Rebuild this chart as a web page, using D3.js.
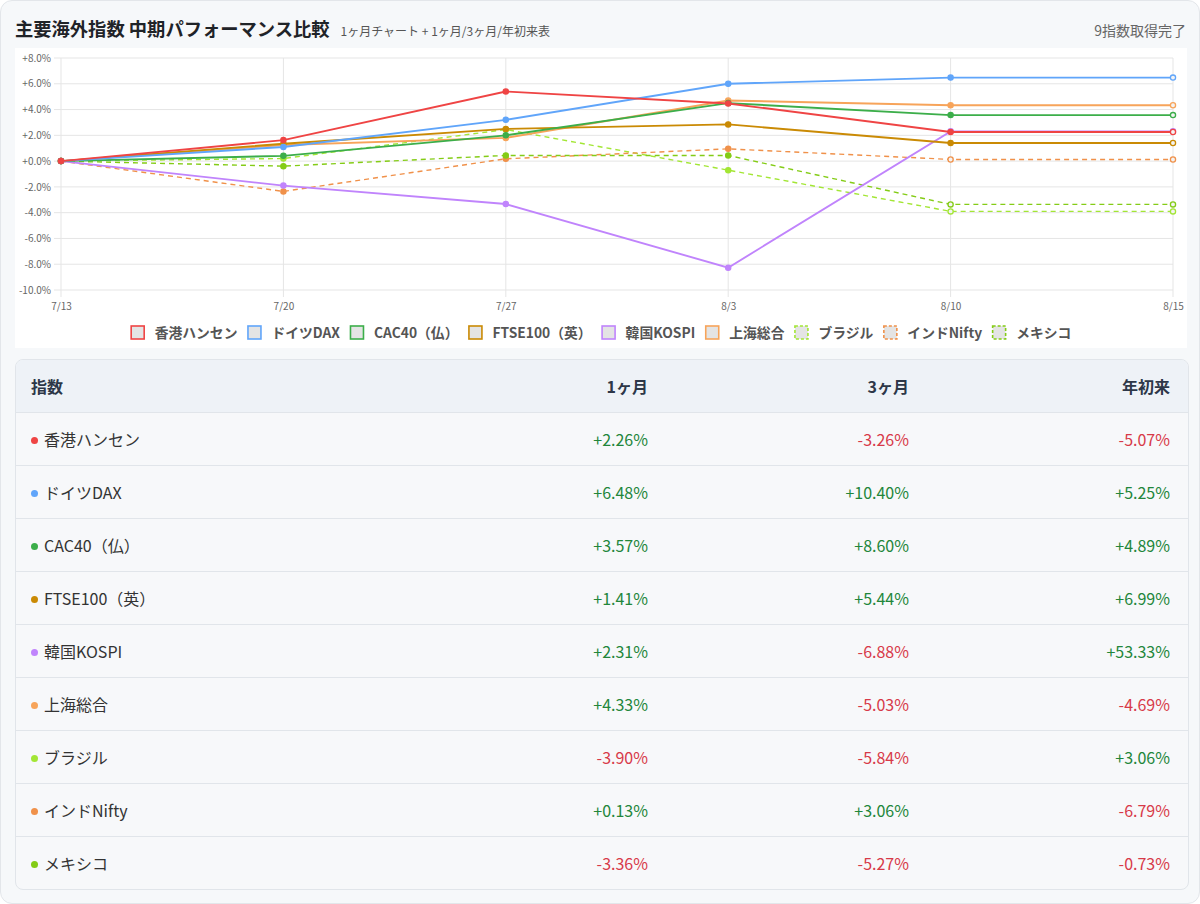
<!DOCTYPE html>
<html lang="ja">
<head>
<meta charset="utf-8">
<script src="https://cdn.jsdelivr.net/npm/d3@7"></script>
<style>
  html, body { margin: 0; padding: 0; background: #ffffff; }
  body { font-family: "Noto Sans CJK JP", "Noto Sans", sans-serif; }
  #card {
    position: absolute; left: 0; top: 0; width: 1198px; height: 902px;
    background: #f6f8fa; border: 1px solid #e3e6ea; border-radius: 12px;
  }
  #title { position: absolute; left: 14px; top: 14px; font-size: 18.3px; font-weight: 700; color: #1f2328; white-space: nowrap; }
  #title span { font-size: 12px; font-weight: 400; color: #555; margin-left: 11px; }
  #status { position: absolute; right: 13px; top: 19px; font-size: 14px; color: #666; }
  #chart { position: absolute; left: 14px; top: 47px; }
  #tbl {
    position: absolute; left: 14px; top: 358px; width: 1172px;
    border: 1px solid #e1e5ea; border-radius: 8px; overflow: hidden; background: #f7f8fa;
  }
  table { border-collapse: collapse; width: 100%; }
  th { background: #eef2f7; height: 52px; font-size: 16px; font-weight: 700; color: #2d3748; padding: 0 18px; }
  td { height: 52px; font-size: 16px; color: #333; padding: 0 18px; border-top: 1px solid #e1e5ea; }
  th, td { text-align: right; }
  th:first-child, td:first-child { text-align: left; padding-left: 15px; }
  .dot { display: inline-block; width: 7px; height: 7px; border-radius: 50%; margin-right: 6px; vertical-align: 2px; }
  .pos { color: #22863a; }
  .neg { color: #d73a49; }
</style>
</head>
<body>
<div id="card">
  <div id="title">主要海外指数 中期パフォーマンス比較<span>1ヶ月チャート + 1ヶ月/3ヶ月/年初来表</span></div>
  <div id="status">9指数取得完了</div>
  <svg id="chart"></svg>
  <div id="tbl"></div>
</div>
<script>
// data
const dates = ["7/13", "7/20", "7/27", "8/3", "8/10", "8/15"];
const names = ["香港ハンセン", "ドイツDAX", "CAC40（仏）", "FTSE100（英）", "韓国KOSPI", "上海総合", "ブラジル", "インドNifty", "メキシコ"];
const colors = ["#ef4444", "#60a5fa", "#3cae4a", "#ca8a04", "#c084fc", "#f7a45a", "#a3e635", "#f0914a", "#84cc16"];
const dashed = [false, false, false, false, false, false, true, true, true];

const hsi    = [0, 1.63, 5.40, 4.47, 2.26, 2.26];
const dax    = [0, 1.10, 3.20, 6.00, 6.48, 6.48];
const cac    = [0, 0.41, 2.00, 4.50, 3.57, 3.57];
const ftse   = [0, 1.35, 2.50, 2.85, 1.41, 1.41];
const kospi  = [0, -1.90, -3.33, -8.27, 2.31, 2.31];
const sse    = [0, 1.25, 1.80, 4.70, 4.33, 4.33];
const brazil = [0, 0.20, 2.45, -0.70, -3.90, -3.90];
const nifty  = [0, -2.35, 0.18, 0.95, 0.13, 0.13];
const mexico = [0, -0.39, 0.44, 0.44, -3.36, -3.36];
const series = [hsi, dax, cac, ftse, kospi, sse, brazil, nifty, mexico];

const yTicks = [-10, -8, -6, -4, -2, 0, 2, 4, 6, 8];

// table values
const oneMonth   = [2.26, 6.48, 3.57, 1.41, 2.31, 4.33, -3.90, 0.13, -3.36];
const threeMonth = [-3.26, 10.40, 8.60, 5.44, -6.88, -5.03, -5.84, 3.06, -5.27];
const ytd        = [-5.07, 5.25, 4.89, 6.99, 53.33, -4.69, 3.06, -6.79, -0.73];
const headers = ["指数", "1ヶ月", "3ヶ月", "年初来"];

// chart
const W = 1172, H = 300;
const margin = { top: 10, right: 14, bottom: 58, left: 46 };
const svg = d3.select("#chart").attr("width", W).attr("height", H);
svg.append("rect").attr("width", W).attr("height", H).attr("fill", "#fff");

const x = d3.scalePoint().domain(dates).range([margin.left, W - margin.right]);
const y = d3.scaleLinear().domain([-10, 8]).range([H - margin.bottom, margin.top]);

const fmt = v => (v >= 0 ? "+" : "") + v.toFixed(1) + "%";

// grid
svg.append("g")
  .selectAll("line.h").data(yTicks).enter().append("line")
  .attr("x1", margin.left - 7).attr("x2", W - margin.right)
  .attr("y1", d => y(d)).attr("y2", d => y(d))
  .attr("stroke", "#e5e5e5").attr("stroke-width", 1);
svg.append("g")
  .selectAll("line.v").data(dates).enter().append("line")
  .attr("x1", d => x(d)).attr("x2", d => x(d))
  .attr("y1", margin.top).attr("y2", H - margin.bottom + 7)
  .attr("stroke", "#e5e5e5").attr("stroke-width", 1);

// y axis labels
const yAxis = svg.append("g")
  .attr("transform", `translate(${margin.left - 7},0)`)
  .call(d3.axisLeft(y).tickValues(yTicks).tickFormat(fmt).tickSize(0).tickPadding(3));
yAxis.select(".domain").remove();
yAxis.selectAll("text").attr("fill", "#666").style("font-size", "10px")
  .style("font-family", "'Noto Sans CJK JP', sans-serif");

// x axis labels
const xAxis = svg.append("g")
  .attr("transform", `translate(0,${H - margin.bottom + 9})`)
  .call(d3.axisBottom(x).tickSize(0).tickPadding(4));
xAxis.select(".domain").remove();
xAxis.selectAll("text").attr("fill", "#666").style("font-size", "10px")
  .style("font-family", "'Noto Sans CJK JP', sans-serif");

// lines
const line = d3.line().x((d, i) => x(dates[i])).y(d => y(d));
const order = [6, 7, 8, 5, 4, 3, 2, 1, 0];
order.forEach(k => {
  const g = svg.append("g");
  g.append("path")
    .datum(series[k])
    .attr("d", line)
    .attr("fill", "none")
    .attr("stroke", colors[k])
    .attr("stroke-width", dashed[k] ? 1.4 : 1.9)
    .attr("stroke-dasharray", dashed[k] ? "5,4" : null);
  g.selectAll("circle").data(series[k]).enter().append("circle")
    .attr("cx", (d, i) => x(dates[i]))
    .attr("cy", d => y(d))
    .attr("r", 2.6)
    .attr("fill", (d, i) => (i === dates.length - 1 || (dashed[k] && i === 4)) ? "#f3f3f3" : colors[k])
    .attr("stroke", colors[k])
    .attr("stroke-width", 1.3);
});

// legend
const legend = svg.append("g").attr("transform", `translate(0,${H - 15})`);
const items = legend.selectAll("g").data(names).enter().append("g");
items.append("rect")
  .attr("x", 0.5).attr("y", -7).attr("width", 13).attr("height", 13)
  .attr("fill", "#e4e4e4")
  .attr("stroke", (d, i) => colors[i])
  .attr("stroke-width", 1.6)
  .attr("stroke-dasharray", (d, i) => dashed[i] ? "3,2" : null);
items.append("text")
  .attr("x", 24).attr("y", 0).attr("dy", "0.35em")
  .attr("fill", "#555")
  .style("font-size", "13.8px").style("font-weight", "700")
  .style("font-family", "'Noto Sans CJK JP', sans-serif")
  .text(d => d);
const widths = [];
items.each(function () { widths.push(24 + this.querySelector("text").getComputedTextLength()); });
const gap = 10;
const total = d3.sum(widths) + gap * (widths.length - 1);
let cx = (W - total) / 2;
items.attr("transform", (d, i) => { const t = `translate(${cx},0)`; cx += widths[i] + gap; return t; });

// table
const pct = v => (v >= 0 ? "+" : "") + v.toFixed(2) + "%";
const table = d3.select("#tbl").append("table");
table.append("thead").append("tr").selectAll("th").data(headers).enter().append("th").text(d => d);
const rows = table.append("tbody").selectAll("tr").data(names).enter().append("tr");
const first = rows.append("td");
first.append("span").attr("class", "dot").style("background", (d, i) => colors[i]);
first.append("span").text(d => d);
[oneMonth, threeMonth, ytd].forEach(col => {
  rows.append("td")
    .attr("class", (d, i) => col[i] >= 0 ? "pos" : "neg")
    .text((d, i) => pct(col[i]));
});
</script>
</body>
</html>
